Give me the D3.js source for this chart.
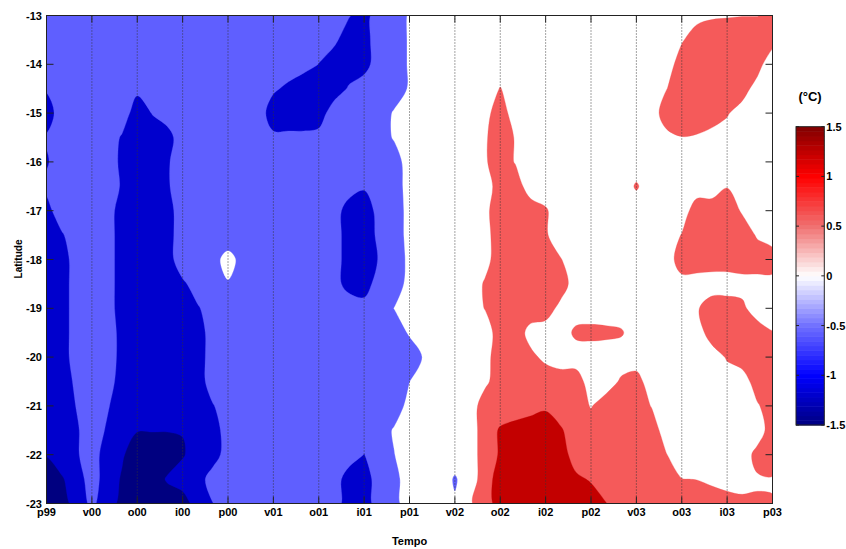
<!DOCTYPE html>
<html><head><meta charset="utf-8">
<script src="https://cdn.jsdelivr.net/npm/d3@7"></script>
<style>
body{margin:0;background:#fff}
svg{display:block}
text{font-family:"Liberation Sans",Arial,Helvetica,sans-serif;font-weight:bold;fill:#000}
</style>
</head><body>
<svg id="chart" width="846" height="549"></svg>
<script>
// ---------- data ----------
const timeLabels = ["p99","v00","o00","i00","p00","v01","o01","i01","p01","v02","o02","i02","p02","v03","o03","i03","p03"];
const latTicks = [-13,-14,-15,-16,-17,-18,-19,-20,-21,-22,-23];
const samplesPerTick = 3;      // monthly samples between seasonal ticks
const latStep = 0.5;           // degrees between rows
const latStart = -13;
// temperature anomaly (°C), one row per latitude (-13 ... -23), 49 monthly columns (p99 ... p03)
const anomaly = [
 [-0.5,-0.5,-0.5,-0.5,-0.5,-0.5,-0.5,-0.5,-0.5,-0.5, -0.5,-0.5,-0.5,-0.5,-0.5,-0.5,-0.5,-0.5,-0.5,-0.5, -0.72,-1,-0.4,-0.5,-0.2, 0,0,0,0,0,0,0,0,0,0, 0,0,0,0,0,0,0,0, 0.1,0.2,0.22,0.24,0.24,0.3],
 [-0.5,-0.5,-0.5,-0.5,-0.5,-0.5,-0.5,-0.5,-0.5,-0.5, -0.5,-0.5,-0.5,-0.5,-0.5,-0.5,-0.5,-0.5,-0.5,-0.65, -1,-1,-0.4,-0.5,-0.2, 0,0,0,0,0,0,0,0,0,0, 0,0,0,0,0,0,0,0.2, 0.5,0.5,0.5,0.5,0.5,0.5],
 [-0.5,-0.5,-0.5,-0.5,-0.5,-0.5,-0.5,-0.5,-0.5,-0.5, -0.5,-0.5,-0.5,-0.5,-0.5,-0.5,-0.5,-0.5,-0.76,-1, -1,-1,-0.4,-0.5,-0.2, 0,0,0,0,0,0,0,0,0,0, 0,0,0,0,0,0,0,0.5, 0.5,0.5,0.5,0.5,0.5,-0.2],
 [-0.7,-0.5,-0.5,-0.5,-0.5,-0.5,-0.65,-0.5,-0.5,-0.5, -0.5,-0.5,-0.5,-0.5,-0.5,-0.68,-0.85,-1.19,-1,-1, -0.7,-0.4,-0.5,-0.5,-0.2, 0,0,0,0,0,0.27,0,0,0,0, 0,0,0,0,0,0,0.24,0.5, 0.5,0.5,0.5,0.5,0,0],
 [-1,-0.5,-0.5,-0.5,-0.5,-0.5,-1,-0.73,-0.5,-0.5, -0.5,-0.5,-0.5,-0.5,-0.5,-1,-1,-1,-1,-0.5, -0.5,-0.5,-0.5,-0.2,0, 0,0,0,0,0.1,0.5,0,0,0,0, 0,0,0,0,0,0,0.5,0.5, 0.5,0.5,0.3,0,0,0],
 [-0.7,-0.5,-0.5,-0.5,-0.5,-0.8,-1,-1,-0.95,-0.45, -0.5,-0.5,-0.5,-0.5,-0.5,-0.66,-0.66,-0.66,-0.6,-0.5, -0.5,-0.5,-0.5,-0.2,0, 0,0,0,0,0.2,0.5,0.22,0,0,0, 0,0,0,0,0,0,0.12,0.24, 0.21,0.08,0,0,0,0],
 [-0.8,-0.5,-0.5,-0.5,-0.5,-0.85,-1,-1,-0.8,-0.5, -0.5,-0.5,-0.5,-0.5,-0.5,-0.5,-0.5,-0.5,-0.5,-0.5, -0.5,-0.5,-0.5,-0.5,0, 0,0,0,0,0.2,0.5,0.22,0,0,0, 0,0,0,0,0,0,0,0, 0,0,0,0,0,0],
 [-0.65,-0.5,-0.5,-0.5,-0.5,-0.8,-1,-1,-0.8,-0.5, -0.5,-0.5,-0.5,-0.5,-0.5,-0.5,-0.5,-0.5,-0.5,-0.5, -0.5,-0.7,-0.5,-0.5,-0.05, 0,0,0,0,0,0.5,0.5,0,0,0, 0,0,0,0,0.3,0,0,0, 0,0,0.23,0,0,0],
 [-0.9,-0.5,-0.5,-0.5,-0.5,-1,-1,-1,-1,-0.4, -0.5,-0.5,-0.5,-0.5,-0.5,-0.5,-0.5,-0.5,-0.5,-0.5, -1,-1,-0.6,-0.5,-0.1, 0,0,0,0,0.15,0.5,0.5,0.5,0.3,0, 0,0,0,0,0,0,0,0, 0.5,0.5,0.5,0.2,0,0],
 [-1,-0.8,-0.5,-0.5,-0.5,-1,-1,-1,-1,-0.4, -0.5,-0.5,-0.7,-0.5,-0.5,-0.5,-0.5,-0.5,-0.5,-0.5, -1,-1,-0.65,-0.5,-0.1, 0,0,0,0,0.1,0.5,0.5,0.5,0.3,0, 0,0,0,0,0,0,0,0.27, 0.5,0.5,0.5,0.5,0.2,0],
 [-1,-1,-0.5,-0.5,-0.5,-1,-1,-1,-1,-0.4, -0.5,-0.5,0,-0.5,-0.5,-0.5,-0.5,-0.5,-0.5,-0.5, -1,-1,-0.72,-0.5,-0.15, 0,0,0,0,0.1,0.5,0.5,0.5,0.5,0.27, 0,0,0,0,0,0,0,0.5, 0.5,0.5,0.5,0.5,0.5,0.5],
 [-1,-1,-0.5,-0.5,-0.5,-1,-1,-1,-1,-0.85, -0.5,-0.5,-0.3,-0.5,-0.5,-0.5,-0.5,-0.5,-0.5,-0.5, -1,-1,-0.5,-0.5,-0.1, 0,0,0,0,0.3,0.5,0.5,0.5,0.5,0.5, 0,0,0,0,0,0,0,0.08, 0.05,0,0,0.08,0.08,0.08],
 [-1,-1,-0.5,-0.5,-0.5,-1,-1,-1,-1,-1, -0.8,-0.5,-0.5,-0.5,-0.5,-0.5,-0.5,-0.5,-0.5,-0.5, -0.35,-0.55,-0.5,-0.24,0, 0,0,0,0,0.27,0.5,0.5,0.5,0.5,0.1, 0,0,0,0,0,0,0,0, 0.2,0.5,0.5,0.35,0,0],
 [-1,-1,-0.5,-0.5,-0.5,-0.9,-1,-1,-1,-1, -1,-0.5,-0.5,-0.5,-0.5,-0.5,-0.5,-0.5,-0.5,-0.5, -0.5,-0.5,-0.5,-0.5,-0.2, 0,0,0,0,0,0.5,0.5,0.1,0,0, 0.35,0.38,0.35,0.3,0,0,0,0, 0,0.5,0.5,0.5,0.5,0.27],
 [-1,-1,-0.5,-0.5,-0.5,-0.9,-1,-1,-1,-1, -1,-0.5,-0.5,-0.5,-0.5,-0.5,-0.5,-0.5,-0.5,-0.5, -0.5,-0.5,-0.5,-0.5,-0.5, -0.2,0,0,0,0.1,0.5,0.5,0.35,0.15,0, 0,0,0,0,0,0,0,0, 0,0,0.3,0.5,0.5,0.5],
 [-1,-1,-0.65,-0.5,-0.5,-1,-1,-1,-1,-1, -1,-0.5,-0.5,-0.5,-0.5,-0.5,-0.5,-0.5,-0.5,-0.5, -0.5,-0.5,-0.5,-0.5,-0.26, 0,0,0,0,0.15,0.5,0.5,0.5,0.5,0.5, 0.5,0,0,0.32,0.43,0,0,0, 0,0,0,0,0.5,0.5],
 [-1,-1,-0.73,-0.5,-0.7,-1,-1,-1,-1,-1, -1,-0.78,-0.5,-0.5,-0.5,-0.5,-0.5,-0.5,-0.5,-0.5, -0.5,-0.5,-0.5,-0.5,-0.1, 0,0,0,0,0.5,0.5,0.375,0.57,0.68,0.5, 0.5,0.22,0.5,0.5,0.5,0.23,0,0, 0,0,0,0,0.2,0.5],
 [-1,-1,-0.8,-0.5,-0.8,-1,-1.23,-1.23,-1.23,-1.23, -1,-1,-0.5,-0.5,-0.5,-0.5,-0.5,-0.5,-0.5,-0.5, -0.5,-0.5,-0.5,-0.2,0, 0,0,0,0,0.5,0.8,1,1,1,0.8, 0.5,0.5,0.5,0.5,0.5,0.5,0,0, 0,0,0,0,0,0.5],
 [-1.23,-1,-0.8,-0.5,-1,-1.2,-1.5,-1.5,-1.5,-1.3, -1,-1,-0.5,-0.5,-0.5,-0.5,-0.5,-0.5,-0.5,-0.5, -0.5,-0.76,-0.5,-0.26,0, 0,0,0,0,0.5,0.8,1,1,1,1, 0.5,0.5,0.5,0.5,0.5,0.5,0.26,0, 0,0,0,0,0.4,0.5],
 [-1.5,-1.3,-1,-0.5,-1,-1.3,-1.5,-1.5,-1.2,-1, -1,-0.5,-0.5,-0.5,-0.5,-0.5,-0.5,-0.5,-0.5,-0.5, -1,-1,-0.5,-0.4,0, 0,0,-0.3,0,0.5,1,1,1,1,1, 0.85,0.7,0.5,0.5,0.5,0.5,0.5,0.26, 0.24,0.15,0,0,0.2,0.22],
 [-1.5,-1.5,-1,-0.65,-1,-1.4,-1.5,-1.5,-1.5,-1.5, -1,-0.76,-0.5,-0.5,-0.5,-0.5,-0.5,-0.5,-0.5,-0.5, -1,-1,-0.5,-0.4,0, 0,0,-0.2,0.2,0.5,1,1,1,1,1, 1,1,0.76,0.5,0.5,0.5,0.5,0.5, 0.5,0.5,0.5,0.4,0.3,0.27]
];
const levels = [-1.25,-0.75,-0.25,0.25,0.75];
const bandColors = ["#000080","#0000cd","#5f5fff","#ffffff","#f55a5a","#c30000"];
const colorbarTicks = [1.5,1,0.5,0,-0.5,-1,-1.5];
const colorbarStops = [-1.5,-1,-0.5,0,0.5,1,1.5];
const colorbarColors = ["#000080","#0000ff","#7070ff","#ffffff","#f07070","#ff0000","#800000"];

// ---------- layout ----------
const svg = d3.select("#chart");
const L = 46.5, R = 772.5, T = 15.5, B = 503.5;
const x = d3.scaleLinear().domain([0, timeLabels.length - 1]).range([L, R]);
const y = d3.scaleLinear().domain([latTicks[0], latTicks[latTicks.length - 1]]).range([T, B]);

const nRows = anomaly.length, nCols = anomaly[0].length;
// grid coordinates from d3.contours: sample (i,j) sits at (i+0.5, j+0.5)
const gx = d3.scaleLinear().domain([0.5, nCols - 0.5]).range([x(0), x((nCols - 1) / samplesPerTick)]);
const gy = d3.scaleLinear().domain([0.5, nRows - 0.5]).range([y(latStart), y(latStart - (nRows - 1) * latStep)]);

svg.append("defs").append("clipPath").attr("id", "plotclip")
  .append("rect").attr("x", L).attr("y", T).attr("width", R - L).attr("height", B - T);

const plot = svg.append("g").attr("clip-path", "url(#plotclip)");
plot.append("rect").attr("x", L).attr("y", T).attr("width", R - L).attr("height", B - T)
  .attr("fill", bandColors[0]);

const flat = anomaly.flat();
const contours = d3.contours().size([nCols, nRows]).thresholds(levels)(flat);
const ringLine = d3.line().curve(d3.curveCatmullRomClosed.alpha(0.5));
function smoothPath(geom) {
  let s = "";
  geom.coordinates.forEach(poly => poly.forEach(ring => {
    const pts = ring.slice(0, ring.length - 1).map(p => [gx(p[0]), gy(p[1])]);
    if (pts.length > 2) s += ringLine(pts);
  }));
  return s;
}
plot.selectAll("path.band").data(contours).join("path")
  .attr("class", "band")
  .attr("d", smoothPath)
  .attr("fill-rule", "evenodd")
  .attr("fill", (d, i) => bandColors[i + 1])
  .attr("stroke", (d, i) => bandColors[i + 1])
  .attr("stroke-width", 0.3);

// dotted vertical grid lines
svg.append("g").selectAll("line").data(d3.range(1, timeLabels.length - 1)).join("line")
  .attr("x1", d => x(d)).attr("x2", d => x(d)).attr("y1", T).attr("y2", B)
  .attr("stroke", "#333").attr("stroke-width", 0.9).attr("stroke-dasharray", "1,2");

// frame
svg.append("rect").attr("x", L).attr("y", T).attr("width", R - L).attr("height", B - T)
  .attr("fill", "none").attr("stroke", "#222").attr("stroke-width", 1);

const tl = 7;
const ticks = svg.append("g").attr("stroke", "#222").attr("stroke-width", 1);
d3.range(timeLabels.length).forEach(i => {
  ticks.append("line").attr("x1", x(i)).attr("x2", x(i)).attr("y1", B).attr("y2", B - tl);
  ticks.append("line").attr("x1", x(i)).attr("x2", x(i)).attr("y1", T).attr("y2", T + tl);
});
latTicks.forEach(v => {
  ticks.append("line").attr("x1", L).attr("x2", L + tl).attr("y1", y(v)).attr("y2", y(v));
  ticks.append("line").attr("x1", R).attr("x2", R - tl).attr("y1", y(v)).attr("y2", y(v));
});

// tick labels
svg.append("g").selectAll("text").data(timeLabels).join("text")
  .attr("x", (d, i) => x(i)).attr("y", 516).attr("text-anchor", "middle")
  .attr("font-size", 11).text(d => d);
svg.append("g").selectAll("text").data(latTicks).join("text")
  .attr("x", 42).attr("y", d => y(d) + 4).attr("text-anchor", "end")
  .attr("font-size", 11).text(d => d);

// axis titles
svg.append("text").attr("x", (L + R) / 2).attr("y", 545).attr("text-anchor", "middle")
  .attr("font-size", 11).text("Tempo");
svg.append("text").attr("transform", "translate(22,259) rotate(-90)").attr("text-anchor", "middle")
  .attr("font-size", 10).text("Latitude");

// colorbar
const cbX = 796, cbW = 28.3, cbTop = 126.7, cbBot = 425;
const cy = d3.scaleLinear().domain([-1.5, 1.5]).range([cbBot, cbTop]);
const cmap = d3.scaleLinear().domain(colorbarStops).range(colorbarColors);
const nBands = 64;
const bands = d3.range(nBands).map(k => -1.5 + k * 3 / nBands);
svg.append("g").selectAll("rect").data(bands).join("rect")
  .attr("x", cbX).attr("width", cbW)
  .attr("y", d => cy(d + 3 / nBands)).attr("height", d => cy(d) - cy(d + 3 / nBands) + 0.5)
  .attr("fill", d => cmap(d + 1.5 / nBands));
svg.append("rect").attr("x", cbX).attr("y", cbTop).attr("width", cbW).attr("height", cbBot - cbTop)
  .attr("fill", "none").attr("stroke", "#222").attr("stroke-width", 1);
const cbt = svg.append("g");
colorbarTicks.forEach(v => {
  cbt.append("line").attr("x1", cbX + cbW).attr("x2", cbX + cbW - 3).attr("y1", cy(v)).attr("y2", cy(v))
    .attr("stroke", "#222");
  cbt.append("line").attr("x1", cbX).attr("x2", cbX + 3).attr("y1", cy(v)).attr("y2", cy(v))
    .attr("stroke", "#222");
  cbt.append("text").attr("x", cbX + cbW + 2).attr("y", cy(v) + 4).attr("font-size", 11).text(v);
});
svg.append("text").attr("x", 810).attr("y", 101).attr("text-anchor", "middle")
  .attr("font-size", 13).text("(°C)");
</script>
</body></html>
